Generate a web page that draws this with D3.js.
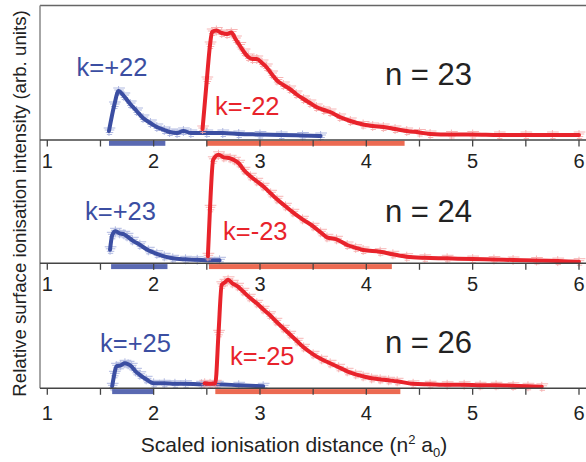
<!DOCTYPE html>
<html>
<head>
<meta charset="utf-8">
<script src="https://cdn.jsdelivr.net/npm/d3@7"></script>
<style>
  body { margin: 0; background: #fff; }
  svg { display: block; font-family: "Liberation Sans", Arial, sans-serif; }
</style>
</head>
<body>
<div id="graphicContainer"></div>
<script>
// scaled ionisation distance (n^2 a0) and intensity (arb. units)
var n23BlueX = [1.58,1.63,1.67,1.72,1.78,1.84,1.9,1.97,2.03,2.1,2.15,2.22,2.28,2.35,2.5,2.65,2.8,3.0,3.2,3.4,3.57],
	n23BlueY = [9,35,49,44,36,29,22,17,13,10,8,7,9,7,7,7,6,5.5,5,4.5,4];
var n23RedX = [2.46,2.5,2.53,2.55,2.59,2.64,2.69,2.73,2.77,2.81,2.85,2.89,2.93,2.97,3.02,3.06,3.11,3.16,3.22,3.28,3.34,3.41,3.47,3.53,3.6,3.66,3.75,3.85,3.97,4.06,4.16,4.27,4.38,4.5,4.6,4.8,5.0,5.25,5.5,5.75,6.0],
	n23RedY = [11,60,95,108,109.5,107,106,107.5,101,94.5,88,83,81,81,77,73,66,59.5,55,51,46,41,37,33,30,28,23,19,15.5,14,13,11,9,7.5,6,5.5,5.5,5,5,5,5];

var n24BlueX = [1.59,1.61,1.64,1.68,1.72,1.75,1.8,1.87,1.95,2.03,2.1,2.18,2.3,2.41,2.52,2.62],
	n24BlueY = [13.5,28,32,30,29,27,23,18.5,13,9.5,7,5,4,3.5,3,3];
var n24RedX = [2.51,2.53,2.56,2.61,2.66,2.72,2.76,2.8,2.85,2.91,2.97,3.03,3.1,3.16,3.24,3.31,3.4,3.5,3.57,3.63,3.72,3.82,3.9,3.97,4.13,4.25,4.38,4.55,4.76,5.0,5.2,5.38,5.6,5.8,6.0],
	n24RedY = [7,55,103.5,108.5,106,105,103,100,93,87,82,77,70,64,57,51,44,37,31,26,24,18.3,15.5,13.3,11.6,9,6.6,5.5,5,4.2,3.8,3.3,2.8,2.2,1.6];

var n26BlueX = [1.61,1.63,1.65,1.69,1.73,1.76,1.79,1.83,1.87,1.93,2.0,2.1,2.2,2.3,2.45,2.6,2.8,3.03],
	n26BlueY = [2,14,22,23,25,24,22,17,13.5,9,5,5,4.5,4.5,4,4,3,2];
var n26RedX = [2.48,2.53,2.58,2.61,2.64,2.67,2.7,2.74,2.79,2.84,2.9,2.97,3.03,3.09,3.15,3.22,3.28,3.35,3.41,3.5,3.58,3.66,3.74,3.82,3.9,3.97,4.05,4.13,4.21,4.29,4.44,4.6,4.76,4.92,5.07,5.22,5.38,5.52,5.65],
	n26RedY = [5,4.5,5,55,103.5,106,108.5,105,102,97,91,85,79,73.5,67,60,54,47,41,34,29,25,21,17,14,12,10,9,8,7,4.5,4,3.5,3.5,3,3,2.5,2,1.5];

// ionisation ranges shown as bars under each axis
var blueRanges = [[1.58,2.11],[1.6,2.13],[1.61,2.0]],
	redRanges = [[2.5,4.36],[2.52,4.24],[2.58,4.32]];

var nLabels = ["n = 23","n = 24","n = 26"],
	blueLabels = ["k=+22","k=+23","k=+25"],
	redLabels = ["k=-22","k=-23","k=-25"],
	xTicks = [1,2,3,4,5,6],
	xMinor = [1.5,2.5,3.5,4.5,5.5];

var width = 586,
	height = 462,
	left = 40,
	red = "#e8232b", blue = "#3b4ea2",
	redBar = "#ec6a52", blueBar = "#5a69b2";

var svg = d3.select("#graphicContainer")
			.append("svg")
			.attr('width', width)
			.attr('height', height);

var x = d3.scaleLinear().domain([1, 6]).range([47.3, 579]);

// panel layout: axis baseline, labels
var panels = [
	{base: 140, blue: [n23BlueX, n23BlueY], red: [n23RedX, n23RedY], tickDy: 28,
	 bl: [76.5, 76], rl: [215, 115], nl: [385, 85]},
	{base: 263.3, blue: [n24BlueX, n24BlueY], red: [n24RedX, n24RedY], tickDy: 28,
	 bl: [85, 220], rl: [223, 240], nl: [385, 222]},
	{base: 388.3, blue: [n26BlueX, n26BlueY], red: [n26RedX, n26RedY], tickDy: 32,
	 bl: [100, 352], rl: [230, 365], nl: [385, 353]}
];

// frame
svg.append('line').attr('x1', left).attr('x2', width).attr('y1', 5.5).attr('y2', 5.5)
	.attr('stroke', '#666').attr('stroke-width', 1.5);
svg.append('line').attr('x1', left).attr('x2', left).attr('y1', 5.5).attr('y2', 388.3)
	.attr('stroke', '#888').attr('stroke-width', 1.5);

panels.forEach(function(p, i){
	var y = d3.scaleLinear().domain([0, 125]).range([p.base, p.base - 125]),
		g = svg.append('g').attr('class', 'panel panel_' + i);

	var line = d3.line()
		.x(function(d){ return x(d[0]) })
		.y(function(d){ return y(d[1]) })
		.curve(d3.curveMonotoneX);

	[[p.blue, blue, '#a3addc'], [p.red, red, '#f6a8a8']].forEach(function(s){
		var pts = s[0][0].map(function(v, j){ return [v, s[0][1][j]] });

		// error bars
		var eb = g.append('g').attr('stroke', s[2]).attr('stroke-width', 1).attr('opacity', 0.85);
		[-3, -1, 1.5, 3.5].forEach(function(off, k){
			eb.selectAll('.hbar' + k).data(pts).enter().append('line')
				.attr('x1', function(d){ return x(d[0] - 0.05 + k * 0.01) })
				.attr('x2', function(d){ return x(d[0] + 0.06 - k * 0.01) })
				.attr('y1', function(d){ return y(d[1]) + off })
				.attr('y2', function(d){ return y(d[1]) + off });
		});
		eb.selectAll('.vbar').data(pts).enter().append('line')
			.attr('x1', function(d){ return x(d[0]) })
			.attr('x2', function(d){ return x(d[0]) })
			.attr('y1', function(d){ return y(d[1]) - 5 })
			.attr('y2', function(d){ return y(d[1]) + 5 });

		g.append('path').datum(pts)
			.attr('d', line)
			.attr('fill', 'none')
			.attr('stroke', s[1])
			.attr('stroke-width', 4)
			.attr('stroke-linejoin', 'round')
			.attr('stroke-linecap', 'round');
	});

	// range bars under the axis
	g.append('rect')
		.attr('x', x(blueRanges[i][0])).attr('width', x(blueRanges[i][1]) - x(blueRanges[i][0]))
		.attr('y', p.base + 0.8).attr('height', 5).attr('fill', blueBar);
	g.append('rect')
		.attr('x', x(redRanges[i][0])).attr('width', x(redRanges[i][1]) - x(redRanges[i][0]))
		.attr('y', p.base + 0.8).attr('height', 5).attr('fill', redBar);

	// axis
	var axis = g.append('g').attr('transform', 'translate(0,' + p.base + ')');
	axis.append('line').attr('x1', left).attr('x2', width).attr('stroke', '#444').attr('stroke-width', 1.5);
	axis.selectAll('.major').data(xTicks.concat(xMinor)).enter().append('line')
		.attr('x1', function(d){ return x(d) }).attr('x2', function(d){ return x(d) })
		.attr('y1', 0).attr('y2', 6.5)
		.attr('stroke', '#444').attr('stroke-width', 1.3);
	axis.selectAll('.tickLabel').data(xTicks).enter().append('text')
		.attr('x', function(d){ return x(d) })
		.attr('y', p.tickDy)
		.attr('text-anchor', 'middle')
		.attr('font-size', '20px')
		.attr('fill', '#222')
		.text(function(d){ return d });

	g.append('text').attr('x', p.bl[0]).attr('y', p.bl[1])
		.attr('font-size', '25.5px').attr('fill', blue).text(blueLabels[i]);
	g.append('text').attr('x', p.rl[0]).attr('y', p.rl[1])
		.attr('font-size', '25.5px').attr('fill', red).text(redLabels[i]);
	g.append('text').attr('x', p.nl[0]).attr('y', p.nl[1])
		.attr('font-size', '31px').attr('fill', '#222').text(nLabels[i]);
});

// axis titles
var xt = svg.append('text').attr('x', 294).attr('y', 452)
	.attr('text-anchor', 'middle').attr('font-size', '21px').attr('fill', '#222');
xt.append('tspan').text('Scaled ionisation distance (n');
xt.append('tspan').attr('font-size', '13px').attr('dy', -8).text('2');
xt.append('tspan').attr('dy', 8).text(' a');
xt.append('tspan').attr('font-size', '13px').attr('dy', 5).text('0');
xt.append('tspan').attr('dy', -5).text(')');

svg.append('text')
	.attr('transform', 'translate(26,203.5) rotate(-90)')
	.attr('text-anchor', 'middle')
	.attr('font-size', '18.7px')
	.attr('fill', '#222')
	.text('Relative surface ionisation intensity (arb. units)');
</script>
</body>
</html>
